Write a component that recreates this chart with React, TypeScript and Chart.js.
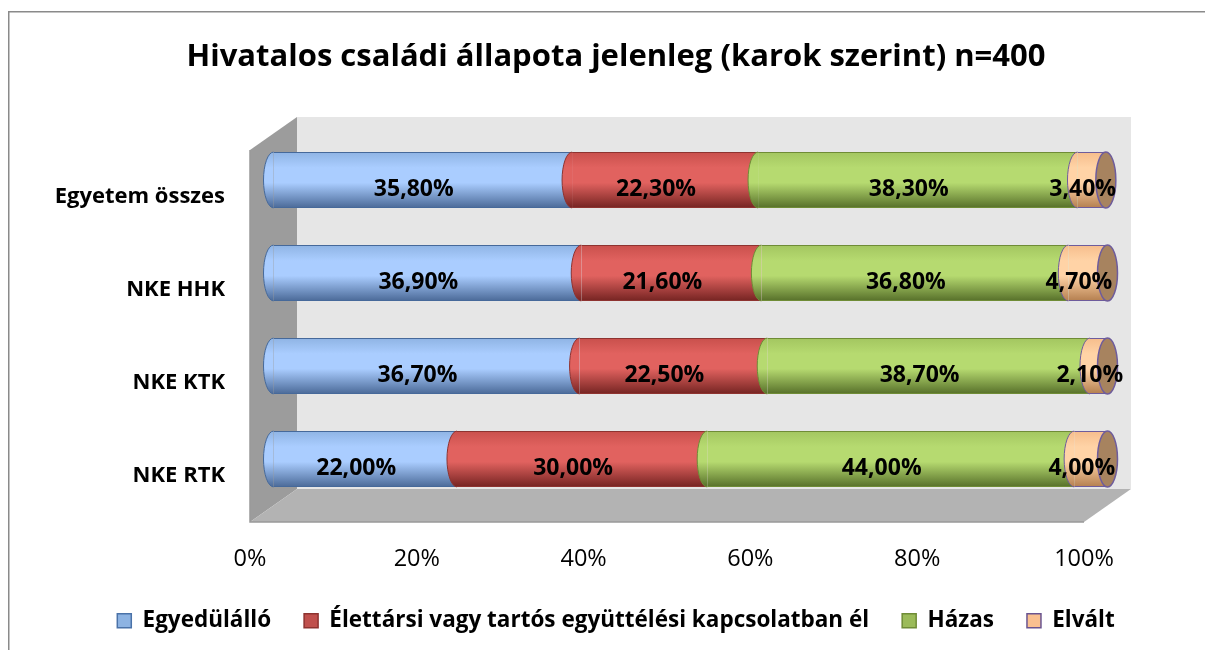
import React, { useEffect, useRef } from "react";
import { Chart, registerables } from "chart.js";

Chart.register(...registerables);

// ---- data ----
const categories = ["Egyetem összes", "NKE HHK", "NKE KTK", "NKE RTK"];
const seriesNames = [
  "Egyedülálló",
  "Élettársi vagy tartós együttélési kapcsolatban él",
  "Házas",
  "Elvált",
];
const egyedulallo = [35.8, 36.9, 36.7, 22.0];
const elettarsi = [22.3, 21.6, 22.5, 30.0];
const hazas = [38.3, 36.8, 38.7, 44.0];
const elvalt = [3.4, 4.7, 2.1, 4.0];
const xTickValues = [0, 20, 40, 60, 80, 100];
const titleText = "Hivatalos családi állapota jelenleg (karok szerint) n=400";

// ---- styles ----
const FONT = "'Open Sans'";
const palettes = [
  { top: "#8fb4e4", light: "#aacdff", dark: "#4b6a98", border: "#46699a", legend: "#8db3e2", legendBorder: "#4a72a8" },
  { top: "#c9504c", light: "#e1625f", dark: "#752422", border: "#8e3330", legend: "#c0504d", legendBorder: "#8e3330" },
  { top: "#a3c660", light: "#b6da70", dark: "#57702a", border: "#6f8c36", legend: "#9bbb59", legendBorder: "#6f8c36" },
  { top: "#f6bd8c", light: "#ffd3a6", dark: "#b47f4f", border: "#6e5c9c", legend: "#fac090", legendBorder: "#6a5490" },
];
const capFill = "#a7835f";
const DEPTH_X = 47;
const DEPTH_Y = -33;
const BAR_DX = 23.5;
const BAR_DY = -16.5;
const LABEL_DX = -9;
const LABEL_DY = 9;
const CAP_RX = 10;
const BAR_PCT = 0.6;

function makeGrad(ctx: CanvasRenderingContext2D, top: number, h: number, p: any) {
  const g = ctx.createLinearGradient(0, top, 0, top + h);
  g.addColorStop(0, p.top);
  g.addColorStop(0.28, p.light);
  g.addColorStop(0.55, p.light);
  g.addColorStop(1, p.dark);
  return g;
}

function barGeom(chart: any, dataIndex: number) {
  const y = chart.scales.y;
  const center = y.getPixelForValue(dataIndex);
  const h = (y.height / categories.length) * BAR_PCT;
  return { center, h };
}

const seriesValues = [egyedulallo, elettarsi, hazas, elvalt];

const framePlugin = {
  id: "frame3d",
  beforeDraw(chart: any) {
    const { ctx, chartArea: a } = chart;
    ctx.save();
    ctx.fillStyle = "#8a8a8a";
    ctx.fillRect(8, 11, 1197, 1.5);
    ctx.fillRect(8, 11, 1.5, 639);
    // back wall
    ctx.fillStyle = "#e6e6e6";
    ctx.fillRect(a.left + DEPTH_X, a.top + DEPTH_Y, a.right - a.left, a.bottom - a.top);
    // side wall
    ctx.fillStyle = "#9c9c9c";
    ctx.beginPath();
    ctx.moveTo(a.left, a.top);
    ctx.lineTo(a.left + DEPTH_X, a.top + DEPTH_Y);
    ctx.lineTo(a.left + DEPTH_X, a.bottom + DEPTH_Y);
    ctx.lineTo(a.left, a.bottom);
    ctx.closePath();
    ctx.fill();
    // floor
    ctx.fillStyle = "#b3b3b3";
    ctx.beginPath();
    ctx.moveTo(a.left, a.bottom);
    ctx.lineTo(a.left + DEPTH_X, a.bottom + DEPTH_Y);
    ctx.lineTo(a.right + DEPTH_X, a.bottom + DEPTH_Y);
    ctx.lineTo(a.right, a.bottom);
    ctx.closePath();
    ctx.fill();
    ctx.strokeStyle = "#999999";
    ctx.lineWidth = 1.5;
    ctx.beginPath();
    ctx.moveTo(a.left, a.top);
    ctx.lineTo(a.left, a.bottom);
    ctx.lineTo(a.right, a.bottom);
    ctx.stroke();
    ctx.restore();
  },
  beforeDatasetsDraw(chart: any) {
    chart.ctx.save();
    chart.ctx.translate(BAR_DX, BAR_DY);
  },
  afterDatasetsDraw(chart: any) {
    const ctx = chart.ctx;
    const n = chart.data.datasets.length;
    for (let d = 0; d < n; d++) {
      const meta = chart.getDatasetMeta(d);
      const p = palettes[d];
      meta.data.forEach((el: any) => {
        const { x, y, base, height } = el.getProps(["x", "y", "base", "height"], true);
        const top = y - height / 2;
        ctx.fillStyle = makeGrad(ctx, top, height, p);
        ctx.beginPath();
        ctx.ellipse(base, y, CAP_RX, height / 2, 0, Math.PI / 2, Math.PI * 1.5);
        ctx.closePath();
        ctx.fill();
        ctx.strokeStyle = p.border;
        ctx.lineWidth = 1;
        ctx.beginPath();
        ctx.ellipse(base, y, CAP_RX, height / 2, 0, Math.PI / 2, Math.PI * 1.5);
        ctx.stroke();
        if (d === n - 1) {
          ctx.beginPath();
          ctx.ellipse(x, y, CAP_RX, height / 2, 0, 0, Math.PI * 2);
          ctx.fillStyle = capFill;
          ctx.fill();
          ctx.strokeStyle = p.border;
          ctx.lineWidth = 1.5;
          ctx.stroke();
        }
      });
    }
    // data labels
    ctx.fillStyle = "#000";
    ctx.font = `bold 23px ${FONT}`;
    ctx.textAlign = "center";
    ctx.textBaseline = "middle";
    for (let d = 0; d < n; d++) {
      const meta = chart.getDatasetMeta(d);
      meta.data.forEach((el: any, i: number) => {
        const { x, y, base } = el.getProps(["x", "y", "base"], true);
        const v = seriesValues[d][i];
        const txt = v.toFixed(2).replace(".", ",") + "%";
        ctx.fillText(txt, (x + base) / 2 + LABEL_DX, y + LABEL_DY);
      });
    }
    ctx.restore();
  },
};

export default function App() {
  const ref = useRef<HTMLCanvasElement | null>(null);
  useEffect(() => {
    if (!ref.current) return;
    const datasets = seriesValues.map((vals, d) => ({
      label: seriesNames[d],
      data: vals,
      backgroundColor: (c: any) => {
        const p = palettes[d];
        if (c.type !== "data" || !c.chart.chartArea) return p.legend;
        const { center, h } = barGeom(c.chart, c.dataIndex);
        return makeGrad(c.chart.ctx, center - h / 2, h, p);
      },
      borderColor: palettes[d].border,
      borderWidth: { top: 1, bottom: 1, left: 0, right: 0 },
      borderSkipped: false,
      barPercentage: BAR_PCT,
      categoryPercentage: 1,
      clip: false as any,
    }));
    const chart = new Chart(ref.current, {
      type: "bar",
      data: { labels: categories, datasets },
      plugins: [framePlugin],
      options: {
        indexAxis: "y",
        animation: false,
        responsive: false,
        devicePixelRatio: 1,
        layout: { padding: { left: 27, right: 0, top: 0, bottom: 8 } },
        scales: {
          x: {
            stacked: true,
            min: 0,
            max: 100,
            grid: { display: false },
            border: { display: false },
            afterBuildTicks: (s: any) => {
              s.ticks = xTickValues.map((v) => ({ value: v }));
            },
            ticks: {
              color: "#000",
              font: { family: FONT, size: 23.5 },
              padding: 15,
              callback: (v: any) => v + "%",
              maxRotation: 0,
            },
            afterFit: (s: any) => {
              s.height = 54.5;
            },
          },
          y: {
            stacked: true,
            grid: { display: false },
            border: { display: false },
            ticks: {
              color: "#000",
              font: { family: FONT, size: 22, weight: "bold" },
              padding: 17,
            },
            afterFit: (s: any) => {
              s.width = 223;
            },
          },
          yRight: {
            type: "category",
            position: "right",
            display: true,
            grid: { display: false },
            border: { display: false },
            ticks: { display: false },
            afterFit: (s: any) => {
              s.width = 121;
            },
          },
        },
        plugins: {
          title: {
            display: true,
            text: titleText,
            color: "#000",
            font: { family: FONT, size: 31, weight: "bold", lineHeight: 1.2 },
            padding: { top: 38.4, bottom: 74.4 },
          },
          legend: {
            display: true,
            position: "bottom",
            labels: {
              color: "#000",
              font: { family: FONT, size: 22.5, weight: "bold" },
              boxWidth: 14,
              boxHeight: 14,
              padding: 33,
              generateLabels: () =>
                seriesNames.map((name, d) => ({
                  text: name,
                  fillStyle: palettes[d].legend,
                  strokeStyle: palettes[d].legendBorder,
                  lineWidth: 1.5,
                  hidden: false,
                  datasetIndex: d,
                  fontColor: "#000",
                })),
            },
          },
          tooltip: { enabled: false },
        },
      } as any,
    });
    return () => chart.destroy();
  }, []);
  return (
    <div style={{ position: "fixed", left: 0, top: 0, width: 1205, height: 650, background: "#fff" }}>
      <canvas ref={ref} width={1205} height={650} />
    </div>
  );
}
